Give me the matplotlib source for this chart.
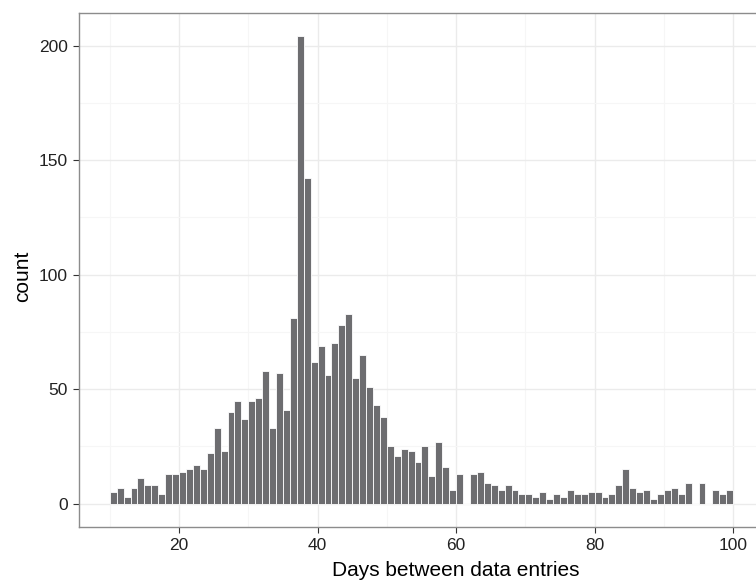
import numpy as np
import matplotlib
matplotlib.use("Agg")
import matplotlib.pyplot as plt

# histogram of days between data entries (binwidth 1, bins 10..100)
bin_left = list(range(10, 100))
counts = [5, 7, 3, 7, 11, 8, 8, 4, 13, 13,
          14, 15, 17, 15, 22, 33, 23, 40, 45, 37,
          45, 46, 58, 33, 57, 41, 81, 204, 142, 62,
          69, 56, 70, 78, 83, 55, 65, 51, 43, 38,
          25, 21, 24, 23, 18, 25, 12, 27, 16, 6,
          13, 0, 13, 14, 9, 8, 6, 8, 6, 4,
          4, 3, 5, 2, 4, 3, 6, 4, 4, 5,
          5, 3, 4, 8, 15, 7, 5, 6, 2, 4,
          6, 7, 4, 9, 0, 9, 0, 6, 4, 6]

x_ticks = [20, 40, 60, 80, 100]
y_ticks = [0, 50, 100, 150, 200]

plt.rcParams['font.family'] = ['Liberation Sans', 'DejaVu Sans']

fig = plt.figure(figsize=(7.56, 5.84), dpi=100)
ax = fig.add_axes([0.104, 0.0976, 0.907, 0.88])

ax.bar(bin_left, counts, width=1.0, align='edge', color='#6d6d70',
       edgecolor='white', linewidth=0.6, zorder=3)

ax.set_xlim(5.5, 104.5)
ax.set_ylim(-10.2, 214.2)

ax.set_xticks(x_ticks)
ax.set_yticks(y_ticks)
ax.set_xticks([10, 30, 50, 70, 90], minor=True)
ax.set_yticks([25, 75, 125, 175], minor=True)
ax.grid(which='major', color='#ebebeb', linewidth=1.0, zorder=0)
ax.grid(which='minor', color='#f6f6f6', linewidth=0.8, zorder=0)
ax.tick_params(which='minor', length=0)
ax.tick_params(which='major', length=4.5, width=0.8, color='#333333',
               labelsize=12.5, labelcolor='#222222', pad=3.5)

for s in ax.spines.values():
    s.set_color('#8c8c8c')
    s.set_linewidth(1.0)

# the labels sit off-centre in the original (panel was cropped on the right)
ax.set_xlabel('Days between data entries', fontsize=15)
ax.set_ylabel('count', fontsize=15)
ax.xaxis.set_label_coords(0.55, -0.066)
ax.yaxis.set_label_coords(-0.068, 0.488)

fig.savefig('out.png', dpi=100)
